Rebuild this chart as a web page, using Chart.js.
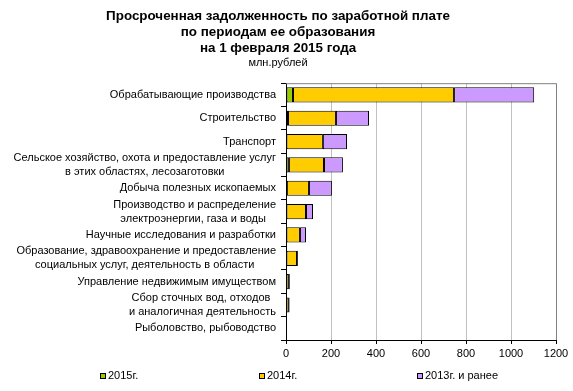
<!DOCTYPE html>
<html lang="ru">
<head>
<meta charset="utf-8">
<title>Просроченная задолженность по заработной плате</title>
<script src="https://cdn.jsdelivr.net/npm/chart.js@4.4.1/dist/chart.umd.min.js"></script>
<style>
  html, body { margin: 0; padding: 0; background: #fff; }
  #grafico { display: block; }
</style>
</head>
<body>
<canvas id="grafico" width="573" height="391"></canvas>
<script>
// Виды деятельности (многострочные подписи - массивы строк)
const otrasli = [
    ['Обрабатывающие производства'],
    ['Строительство'],
    ['Транспорт'],
    ['Сельское хозяйство, охота и предоставление услуг', 'в этих областях, лесозаготовки'],
    ['Добыча полезных ископаемых'],
    ['Производство и распределение', 'электроэнергии, газа и воды '],
    ['Научные исследования и разработки'],
    ['Образование, здравоохранение и предоставление', 'социальных услуг, деятельность в области '],
    ['Управление недвижимым имуществом'],
    ['Сбор сточных вод, отходов ', 'и аналогичная деятельность'],
    ['Рыболовство, рыбоводство']
];

// млн.рублей
const dolg2015 = [31, 9, 0, 13, 4, 0, 0, 0, 0, 0, 0];
const dolg2014 = [716, 213, 164, 156, 98, 89, 62, 49, 13, 13, 0.3];
const dolg2013 = [356, 147, 107, 84, 102, 31, 27, 4, 4, 3, 0.2];

const periody = ['2015г.', '2014г.', '2013г. и ранее'];
const tsveta = ['#99cc00', '#ffcc00', '#cc99ff'];

const shkalaX = { min: 0, max: 1200, step: 200 };

const SHRIFT = "'Liberation Sans', Arial, sans-serif";
Chart.defaults.font.family = SHRIFT;
Chart.defaults.color = '#000';

// рамка области построения (сверху и справа серая)
const ramka = {
    id: 'ramka',
    beforeDatasetsDraw(chart) {
        const { ctx, chartArea: a } = chart;
        ctx.save();
        ctx.strokeStyle = '#808080';
        ctx.lineWidth = 1;
        ctx.beginPath();
        ctx.moveTo(a.left, a.top + 0.5);
        ctx.lineTo(a.right + 0.5, a.top + 0.5);
        ctx.lineTo(a.right + 0.5, a.bottom);
        ctx.stroke();
        ctx.restore();
    }
};

// подписи категорий: строки по центру блока, блок прижат вправо
const podpisi = {
    id: 'podpisi',
    afterDraw(chart) {
        const { ctx } = chart;
        const y = chart.scales.y;
        ctx.save();
        ctx.font = '11px ' + SHRIFT;
        ctx.fillStyle = '#000';
        ctx.textAlign = 'center';
        ctx.textBaseline = 'middle';
        const pravo = y.right - 10;
        chart.data.labels.forEach((stroki, i) => {
            const yc = y.getPixelForValue(i);
            const shir = Math.max(...stroki.map(s => ctx.measureText(s).width));
            const xc = pravo - shir / 2;
            const h = 14;
            const nachalo = yc - (stroki.length - 1) * h / 2;
            stroki.forEach((s, k) => ctx.fillText(s, xc, nachalo + k * h));
        });
        ctx.restore();
    }
};

// легенда внизу, как в Excel
const legenda = {
    id: 'legenda',
    afterDraw(chart) {
        const { ctx } = chart;
        const xs = [100, 259, 417];
        const yc = 376;
        ctx.save();
        ctx.font = '11px ' + SHRIFT;
        ctx.textBaseline = 'middle';
        ctx.textAlign = 'left';
        chart.data.datasets.forEach((ds, i) => {
            ctx.fillStyle = ds.backgroundColor;
            ctx.fillRect(xs[i], yc - 3, 6, 6);
            ctx.strokeStyle = '#000';
            ctx.lineWidth = 1;
            ctx.strokeRect(xs[i] + 0.5, yc - 2.5, 5, 5);
            ctx.fillStyle = '#000';
            ctx.fillText(ds.label, xs[i] + 8, yc);
        });
        ctx.restore();
    }
};

const dannye = {
    labels: otrasli,
    datasets: [dolg2015, dolg2014, dolg2013].map((d, i) => ({
        label: periody[i],
        data: d,
        backgroundColor: tsveta[i],
        borderColor: '#000',
        borderWidth: 1,
        borderSkipped: false,
        barPercentage: 0.65,
        categoryPercentage: 1
    }))
};

new Chart(document.getElementById('grafico'), {
    type: 'bar',
    data: dannye,
    plugins: [ramka, podpisi, legenda],
    options: {
        indexAxis: 'y',
        responsive: false,
        animation: false,
        layout: { padding: { left: 0, right: 17, top: 0, bottom: 30 } },
        scales: {
            x: {
                stacked: true,
                min: shkalaX.min,
                max: shkalaX.max,
                ticks: {
                    stepSize: shkalaX.step,
                    font: { size: 11 },
                    padding: 3,
                    maxRotation: 0,
                    callback: v => String(v)   // без разделителя тысяч
                },
                grid: {
                    color: '#c0c0c0',
                    tickColor: '#000',
                    tickLength: 4,
                    drawOnChartArea: true
                },
                border: { color: '#000' },
                afterFit(s) { s.height = 21; }
            },
            y: {
                stacked: true,
                ticks: { display: false },
                grid: {
                    offset: true,
                    drawOnChartArea: false,
                    color: '#000',
                    tickLength: 5
                },
                border: { color: '#000' },
                afterFit(s) { s.width = 286; }
            }
        },
        plugins: {
            legend: { display: false },
            tooltip: { enabled: false },
            title: {
                display: true,
                text: ['Просроченная задолженность по заработной плате', 'по периодам ее образования', 'на 1 февраля 2015 года'],
                font: { size: 13.4, weight: 'bold', lineHeight: 16 / 13.4 },
                color: '#000',
                padding: { top: 8, bottom: 0 }
            },
            subtitle: {
                display: true,
                text: 'млн.рублей',
                font: { size: 11 },
                color: '#000',
                padding: { top: 0, bottom: 14 }
            }
        }
    }
});
</script>
</body>
</html>
